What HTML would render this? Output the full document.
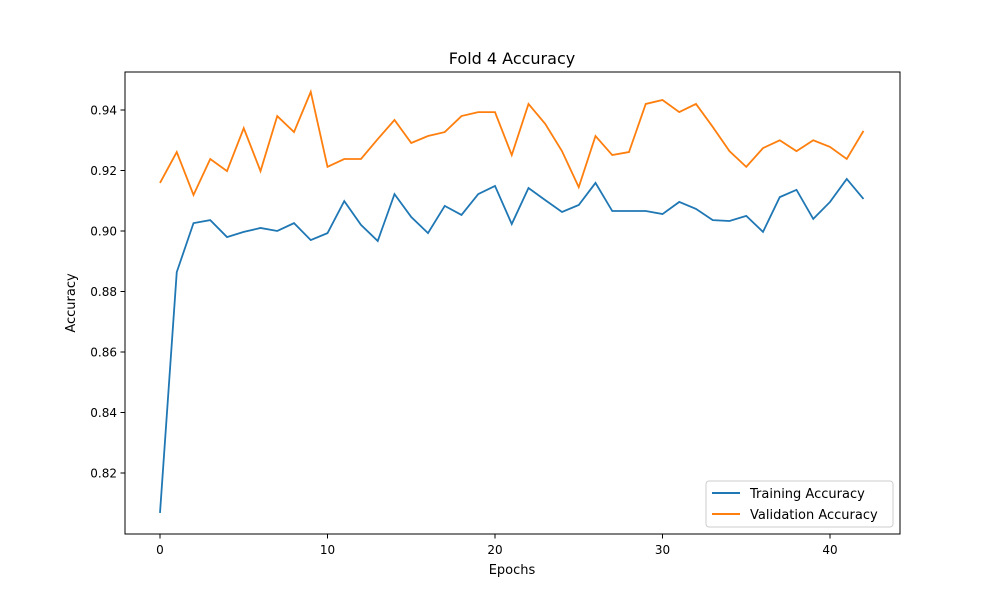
<!DOCTYPE html>
<html><head><meta charset="utf-8"><style>
body{margin:0;background:#fff;font-family:"Liberation Sans","DejaVu Sans",sans-serif}
svg text{font-family:"DejaVu Sans","Liberation Sans",sans-serif}
</style></head><body>
<svg id="chart" width="1000" height="600" xmlns="http://www.w3.org/2000/svg">
<rect width="1000" height="600" fill="#fff"/>
<text x="512" y="64" font-size="16" text-anchor="middle">Fold 4 Accuracy</text>
<text x="512" y="574" font-size="13" text-anchor="middle">Epochs</text>
<text x="0" y="0" font-size="13" text-anchor="middle" transform="translate(75,303) rotate(-90)">Accuracy</text>
<g id="ticks"></g>
<g id="lines"></g>
<rect x="125" y="72" width="775" height="462" fill="none" stroke="#000" stroke-width="1"/>
<g>
<rect x="706" y="481" width="187" height="46" rx="3" fill="#fff" stroke="#ccc"/>
<line x1="712" y1="493" x2="740" y2="493" stroke="#1f77b4" stroke-width="2"/>
<text x="750" y="498" font-size="13">Training Accuracy</text>
<line x1="712" y1="514" x2="740" y2="514" stroke="#ff7f0e" stroke-width="2"/>
<text x="750" y="519" font-size="13">Validation Accuracy</text>
</g>
</svg>
<script>
const xTicks=[0,10,20,30,40];
const yTicks=[0.82,0.84,0.86,0.88,0.90,0.92,0.94];
const trainAcc=[0.8068,0.8864,0.9026,0.9036,0.898,0.8997,0.901,0.900,0.9026,0.897,0.8993,0.9099,0.902,0.8967,0.9122,0.9046,0.8993,0.9083,0.9053,0.9122,0.9149,0.9023,0.9142,0.9102,0.9063,0.9086,0.9159,0.9066,0.9066,0.9066,0.9056,0.9096,0.9073,0.9036,0.9033,0.905,0.8997,0.9112,0.9136,0.904,0.9096,0.9172,0.9106];
const valAcc=[0.9159,0.9261,0.9119,0.9238,0.9198,0.934,0.9198,0.938,0.9327,0.946,0.9212,0.9238,0.9238,0.9304,0.9367,0.9291,0.9314,0.9327,0.938,0.9393,0.9393,0.9251,0.942,0.9354,0.9264,0.9145,0.9314,0.9251,0.9261,0.942,0.9433,0.9393,0.942,0.9344,0.9264,0.9212,0.9274,0.93,0.9264,0.93,0.9278,0.9238,0.9331];
const NS="http://www.w3.org/2000/svg";
const xs=v=>160+v*16.75;
const ys=v=>473-(v-0.82)*3025;
const tg=document.getElementById('ticks');
xTicks.forEach(t=>{
 const l=document.createElementNS(NS,'line');
 l.setAttribute('x1',xs(t));l.setAttribute('x2',xs(t));l.setAttribute('y1',534);l.setAttribute('y2',538.5);l.setAttribute('stroke','#000');
 
 
 tg.appendChild(l);
 const tx=document.createElementNS(NS,'text');
 tx.setAttribute('x',xs(t));tx.setAttribute('y',554);tx.setAttribute('font-size','12');tx.setAttribute('text-anchor','middle');tx.textContent=t;
 
 
 tg.appendChild(tx);
});
yTicks.forEach(t=>{
 const l=document.createElementNS(NS,'line');
 l.setAttribute('x1',120.5);l.setAttribute('x2',125);l.setAttribute('y1',ys(t));l.setAttribute('y2',ys(t));l.setAttribute('stroke','#000');
 
 
 tg.appendChild(l);
 const tx=document.createElementNS(NS,'text');
 tx.setAttribute('x',117);tx.setAttribute('y',ys(t)+4.5);tx.setAttribute('font-size','12');tx.setAttribute('text-anchor','end');tx.textContent=t.toFixed(2);
 
 
 tg.appendChild(tx);
});
const lg=document.getElementById('lines');
[[trainAcc,'#1f77b4','training-accuracy-line'],[valAcc,'#ff7f0e','validation-accuracy-line']].forEach(([d,c,n])=>{
 const p=document.createElementNS(NS,'polyline');
 p.setAttribute('points',d.map((v,i)=>xs(i)+','+ys(v)).join(' '));
 p.setAttribute('fill','none');p.setAttribute('stroke',c);p.setAttribute('stroke-width','1.8');
 
 
 lg.appendChild(p);
});
</script>
</body></html>
